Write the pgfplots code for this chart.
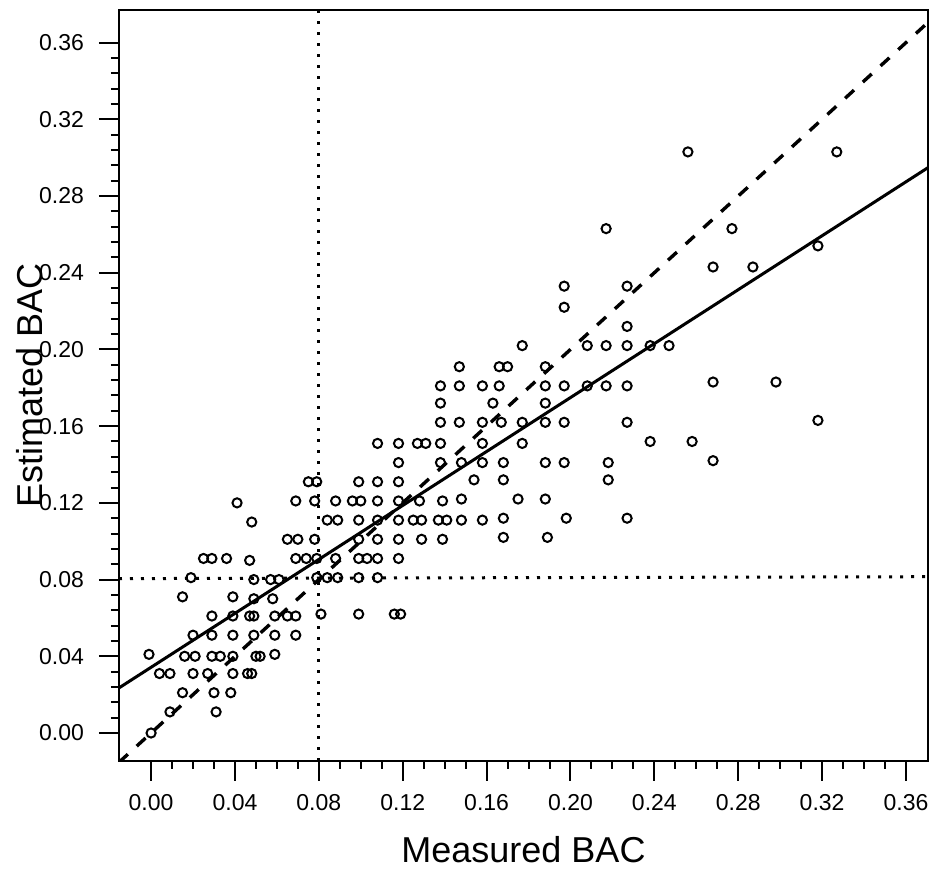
\documentclass[border=0pt]{standalone}
\usepackage{pgfplots}
\pgfplotsset{compat=1.18}
\usepackage{fontspec}
\setmainfont{Liberation Sans}
\usetikzlibrary{calc}
\begin{document}
\begin{tikzpicture}
\begin{axis}[name=ax, scale only axis, width=404.5pt, height=375.5pt,
  xmin=-0.0153, xmax=0.3705, ymin=-0.0146, ymax=0.377,
  xtick={0,0.04,0.08,0.12,0.16,0.2,0.24,0.28,0.32,0.36},
  ytick={0,0.04,0.08,0.12,0.16,0.2,0.24,0.28,0.32,0.36},
  minor x tick num=3, minor y tick num=4,
  tick align=outside, xtick pos=left, ytick pos=left,
  major tick length=10pt, minor tick length=4pt,
  every tick/.style={black, line width=1pt},
  axis line style={line width=1.1pt},
  /pgf/number format/assume math mode=true,
  /pgf/number format/.cd, fixed, fixed zerofill, precision=2, /pgfplots/.cd,
  ticklabel style={font=\fontsize{11.5}{12}\selectfont},
  xticklabel style={yshift=-3pt},
  yticklabel style={xshift=-4pt},
  xlabel={Measured BAC}, ylabel={Estimated BAC},
  every axis x label/.style={at={(axis description cs:0.5,-0.1185)}, anchor=center, font=\fontsize{18}{19}\selectfont},
  every axis y label/.style={at={(axis description cs:-0.110,0.5)}, rotate=90, anchor=center, font=\fontsize{18}{19}\selectfont},
  clip=true]
% dotted reference lines
\addplot[black, line width=1.5pt, dash pattern=on 1.5pt off 4pt] coordinates {(0.08,-0.0146) (0.08,0.377)};
\addplot[black, line width=1.5pt, dash pattern=on 1.5pt off 4pt] coordinates {(-0.0153,0.0805) (0.3705,0.0815)};
% identity line
\addplot[black, line width=1.7pt, dash pattern=on 6pt off 6pt] coordinates {(-0.0153,-0.0153) (0.3705,0.3705)};
% regression line
\addplot[black, line width=1.5pt] coordinates {(-0.0153,0.0235) (0.3705,0.2948)};
% data
\addplot[only marks, mark=o, mark size=2.3pt, mark options={line width=1pt, black}] table {
x y
0.000 0.000
0.009 0.011
0.031 0.011
0.015 0.021
0.030 0.021
0.038 0.021
0.004 0.031
0.009 0.031
0.020 0.031
0.027 0.031
0.039 0.031
0.046 0.031
0.048 0.031
-0.001 0.041
0.016 0.040
0.021 0.040
0.029 0.040
0.033 0.040
0.039 0.040
0.050 0.040
0.052 0.040
0.059 0.041
0.020 0.051
0.029 0.051
0.039 0.051
0.049 0.051
0.059 0.051
0.069 0.051
0.029 0.061
0.039 0.061
0.047 0.061
0.049 0.061
0.059 0.061
0.065 0.061
0.069 0.061
0.081 0.062
0.099 0.062
0.116 0.062
0.119 0.062
0.015 0.071
0.039 0.071
0.049 0.070
0.058 0.070
0.019 0.081
0.049 0.080
0.057 0.080
0.061 0.080
0.079 0.081
0.084 0.081
0.089 0.081
0.099 0.081
0.108 0.081
0.025 0.091
0.029 0.091
0.036 0.091
0.047 0.090
0.069 0.091
0.074 0.091
0.079 0.091
0.088 0.091
0.099 0.091
0.103 0.091
0.108 0.091
0.118 0.091
0.065 0.101
0.070 0.101
0.078 0.101
0.099 0.101
0.108 0.101
0.118 0.101
0.129 0.101
0.139 0.101
0.168 0.102
0.189 0.102
0.048 0.110
0.084 0.111
0.089 0.111
0.099 0.111
0.108 0.111
0.118 0.111
0.125 0.111
0.129 0.111
0.137 0.111
0.141 0.111
0.148 0.111
0.158 0.111
0.168 0.112
0.198 0.112
0.227 0.112
0.041 0.120
0.069 0.121
0.078 0.121
0.088 0.121
0.096 0.121
0.100 0.121
0.108 0.121
0.118 0.121
0.128 0.121
0.139 0.121
0.148 0.122
0.175 0.122
0.188 0.122
0.075 0.131
0.079 0.131
0.099 0.131
0.108 0.131
0.118 0.131
0.154 0.132
0.168 0.132
0.218 0.132
0.118 0.141
0.138 0.141
0.148 0.141
0.158 0.141
0.168 0.141
0.188 0.141
0.197 0.141
0.218 0.141
0.268 0.142
0.108 0.151
0.118 0.151
0.127 0.151
0.131 0.151
0.138 0.151
0.158 0.151
0.177 0.151
0.238 0.152
0.258 0.152
0.138 0.162
0.147 0.162
0.158 0.162
0.167 0.162
0.177 0.162
0.188 0.162
0.197 0.162
0.227 0.162
0.318 0.163
0.138 0.172
0.163 0.172
0.188 0.172
0.138 0.181
0.147 0.181
0.158 0.181
0.166 0.181
0.188 0.181
0.197 0.181
0.208 0.181
0.217 0.181
0.227 0.181
0.268 0.183
0.298 0.183
0.147 0.191
0.166 0.191
0.170 0.191
0.188 0.191
0.177 0.202
0.208 0.202
0.217 0.202
0.227 0.202
0.238 0.202
0.247 0.202
0.227 0.212
0.197 0.222
0.197 0.233
0.227 0.233
0.268 0.243
0.287 0.243
0.318 0.254
0.217 0.263
0.277 0.263
0.256 0.303
0.327 0.303
};
\end{axis}
\pgfresetboundingbox
\path ($(ax.south west)+(-59.5pt,-55.5pt)$) rectangle ($(ax.north east)+(2pt,5pt)$);
\end{tikzpicture}
\end{document}
